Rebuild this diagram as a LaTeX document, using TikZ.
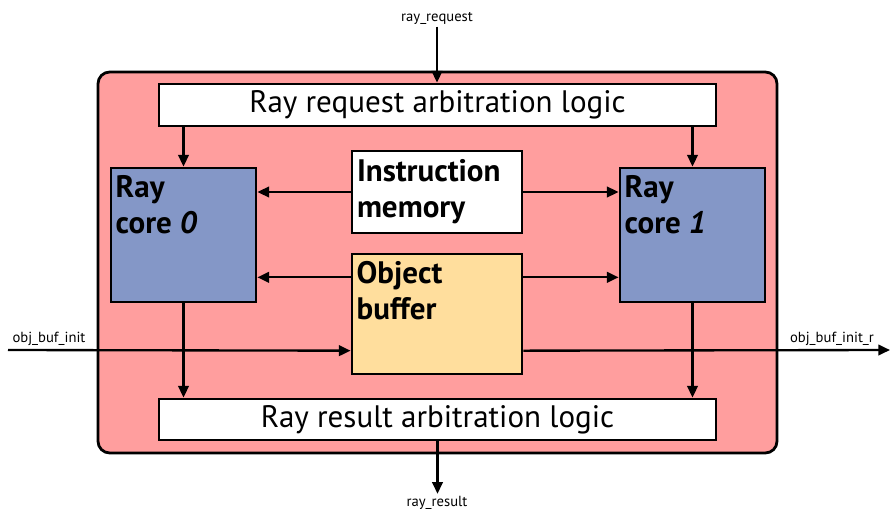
\documentclass[tikz,border=0pt]{standalone}
\usepackage{fontspec}
\setmainfont{PT Sans}
\usetikzlibrary{arrows.meta}

\definecolor{chipred}{HTML}{FF9E9E}
\definecolor{coreblue}{HTML}{8497C7}
\definecolor{bufyellow}{HTML}{FFDE9D}

\begin{document}
\begin{tikzpicture}[x=0.03cm,y=-0.03cm,
        block/.style={draw,line width=2.4pt,inner sep=0pt},
        sig/.style={line width=2pt,-{Triangle[length=10pt,width=9pt]}},
        pin/.style={font=\fontsize{12.5}{14}\selectfont,inner sep=2pt},
        bigtext/.style={font=\fontsize{26.5}{30}\selectfont},
        boldtext/.style={font=\fontsize{26.5}{30.5}\selectfont\bfseries},
        corner/.style={boldtext,anchor=north west,align=left,inner xsep=5pt,inner ysep=7.5pt}]
    \useasboundingbox (0,0) rectangle (891,510);

    % chip outline
    \draw[line width=2.4pt,fill=chipred,rounded corners=10pt] (98,72) rectangle (777,453);

    % arbitration logic
    \node[block,fill=white,minimum width=16.71cm,minimum height=1.26cm,bigtext] (req) at (437.5,105) {Ray request arbitration logic};
    \node[block,fill=white,minimum width=16.71cm,minimum height=1.23cm,bigtext] (res) at (437.5,419.5) {Ray result arbitration logic};

    % ray cores
    \node[block,fill=coreblue,minimum width=4.35cm,minimum height=4.02cm,
        label={[corner]north west:Ray\\core \textit{0}}] (core0) at (183.5,235) {};
    \node[block,fill=coreblue,minimum width=4.35cm,minimum height=4.02cm,
        label={[corner]north west:Ray\\core \textit{1}}] (core1) at (692.5,235) {};

    % shared memories
    \node[block,fill=white,minimum width=5.1cm,minimum height=2.46cm,text width=4.8cm,align=left,boldtext] (imem) at (437,192) {Instruction\\memory};
    \node[block,fill=bufyellow,minimum width=5.1cm,minimum height=3.6cm,
        label={[corner]north west:Object\\buffer}] (objbuf) at (437,314) {};

    % ports
    \node[pin] (rayreq) at (437,18) {ray\_request};
    \node[pin] (rayres) at (437,503) {ray\_result};
    \coordinate (initin) at (8,350);
    \coordinate (initout) at (890,350);
    \node[pin,anchor=south] (initlbl) at (49,348) {obj\_buf\_init};
    \node[pin,anchor=south] (initrlbl) at (832,348) {obj\_buf\_init\_r};

    \draw[sig] (rayreq.south) -- (rayreq.south |- req.north);
    \draw[sig] (res.south) -- (res.south |- rayres.north);
    \draw[sig] (initin) -- (objbuf.203);
    \draw[sig] (objbuf.337) -- (initout);

    \draw[sig] (req.south -| core0) -- (core0.north);
    \draw[sig] (req.south -| core1) -- (core1.north);
    \draw[sig] (core0.south) -- (core0.south |- res.north);
    \draw[sig] (core1.south) -- (core1.south |- res.north);

    \draw[sig] (imem.west) -- (imem.west -| core0.east);
    \draw[sig] (imem.east) -- (imem.east -| core1.west);
    \draw[sig] (objbuf.157) -- (objbuf.157 -| core0.east);
    \draw[sig] (objbuf.23) -- (objbuf.23 -| core1.west);
\end{tikzpicture}
\end{document}
